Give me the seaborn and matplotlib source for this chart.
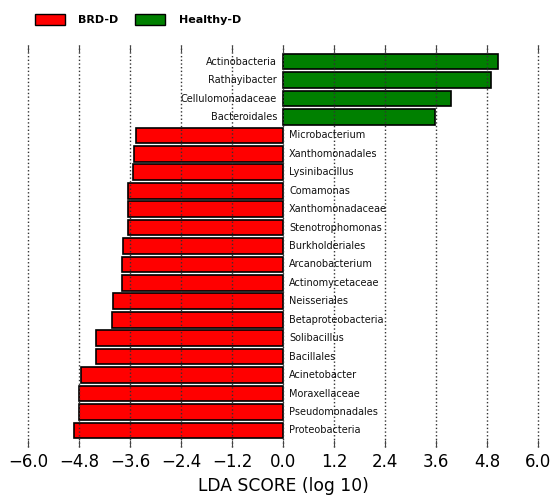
import matplotlib
matplotlib.use("Agg")
import matplotlib.pyplot as plt
from matplotlib.patches import Patch
import numpy as np
import pandas as pd
import seaborn as sns

# LEfSe results: taxa ordered top to bottom, signed LDA score (log 10)
taxa = [
    "Actinobacteria", "Rathayibacter", "Cellulomonadaceae", "Bacteroidales",
    "Microbacterium", "Xanthomonadales", "Lysinibacillus", "Comamonas",
    "Xanthomonadaceae", "Stenotrophomonas", "Burkholderiales", "Arcanobacterium",
    "Actinomycetaceae", "Neisseriales", "Betaproteobacteria", "Solibacillus",
    "Bacillales", "Acinetobacter", "Moraxellaceae", "Pseudomonadales",
    "Proteobacteria",
]
lda_scores = [
    5.05, 4.89, 3.94, 3.58,
    -3.46, -3.51, -3.52, -3.64,
    -3.64, -3.65, -3.76, -3.80,
    -3.80, -4.00, -4.03, -4.39,
    -4.39, -4.75, -4.81, -4.81,
    -4.93,
]
groups = ["BRD-D", "Healthy-D"]
group_colors = {"BRD-D": "#ff0000", "Healthy-D": "#008000"}
xticks = [-6.0, -4.8, -3.6, -2.4, -1.2, 0.0, 1.2, 2.4, 3.6, 4.8, 6.0]

df = pd.DataFrame({
    "taxon": taxa,
    "lda": lda_scores,
    "group": ["Healthy-D" if v > 0 else "BRD-D" for v in lda_scores],
})

sns.set_style("white")
plt.rcParams["font.family"] = ["DejaVu Sans"]
plt.rcParams["text.color"] = "black"
plt.rcParams["axes.labelcolor"] = "black"
plt.rcParams["xtick.color"] = "black"

fig = plt.figure(figsize=(5.55, 4.95), dpi=100)
ax = fig.add_axes([0.0505, 0.097, 0.919, 0.812])

sns.barplot(
    data=df, x="lda", y="taxon", hue="group", order=taxa,
    hue_order=groups, palette=group_colors, saturation=1.0, dodge=False,
    orient="h", width=0.85, edgecolor="black", linewidth=1.2, legend=False,
    ax=ax,
)

# taxon names next to the zero line, on the side opposite the bar
for i, (name, v) in enumerate(zip(taxa, lda_scores)):
    if v < 0:
        ax.text(0.14, i, name, ha="left", va="center", fontsize=7, color="#111111")
    else:
        ax.text(-0.14, i, name, ha="right", va="center", fontsize=7, color="#111111")

ax.set_xlim(-6.0, 6.0)
ax.set_ylim(len(taxa) - 0.1, -0.9)
ax.set_xticks(xticks)
ax.set_xticklabels([f"{t:.1f}".replace("-", "\u2212") for t in xticks], fontsize=12)
ax.set_yticks([])
ax.set_ylabel("")
ax.set_xlabel("LDA SCORE (log 10)", fontsize=12.3, labelpad=5)

for s in ax.spines.values():
    s.set_visible(False)
ax.tick_params(axis="x", which="both", direction="in", length=5, width=0.8,
               top=True, bottom=True, color="#444444", pad=4)
ax.set_axisbelow(False)
ax.grid(True, axis="x", linestyle=":", color="#333333", linewidth=1.0)
for gl in ax.get_xgridlines():
    gl.set_clip_on(False)

handles = [Patch(facecolor=group_colors[g], edgecolor="black", linewidth=1.0) for g in groups]
leg = fig.legend(
    handles, groups, loc="upper left", bbox_to_anchor=(0.045, 0.992), ncol=2,
    frameon=False, handlelength=2.7, handleheight=1.2, handletextpad=1.2,
    columnspacing=1.5, prop={"weight": "bold", "size": 8},
)

fig.savefig("out.png", dpi=100)
